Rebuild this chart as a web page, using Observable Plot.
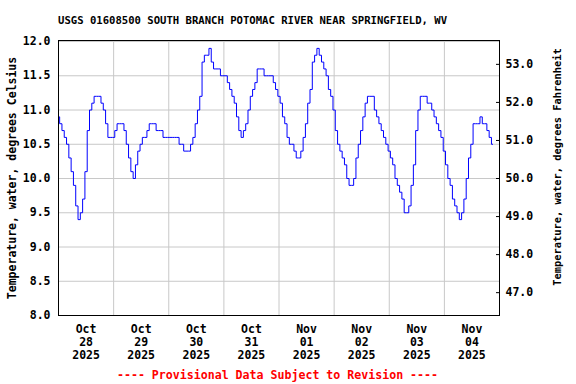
<!DOCTYPE html>
<html><head><meta charset="utf-8">
<script src="https://cdn.jsdelivr.net/npm/d3@7"></script>
<script src="https://cdn.jsdelivr.net/npm/@observablehq/plot@0.6"></script>
<style>
html,body{margin:0;padding:0;background:#fff;}
body{width:576px;height:384px;overflow:hidden;position:relative;font-family:"DejaVu Sans Mono",monospace;font-weight:bold;}
#title{position:absolute;left:58px;top:14px;font-size:10.6px;line-height:12px;color:#000;white-space:pre;}
#chart{position:absolute;left:0;top:30px;}
#foot{position:absolute;left:0;top:366px;width:555px;height:18px;line-height:18px;text-align:center;font-size:11.6px;color:#ff0000;white-space:pre;}
</style></head><body>
<div id="title"></div>
<div id="chart"></div>
<div id="foot"></div>
<script>
const titleText = "USGS 01608500 SOUTH BRANCH POTOMAC RIVER NEAR SPRINGFIELD, WV";
const footText = "---- Provisional Data Subject to Revision ----";
const leftLabel = "Temperature, water, degrees Celsius";
const rightLabel = "Temperature, water, degrees Fahrenheit";

// Hourly water temperature (°C), starting Oct 28 2025 00:00
const startTime = "2025-10-28T00:00:00Z";
const oct28 = [10.9,10.8,10.7,10.6,10.5,10.3,10.1,9.9,9.6,9.4,9.5,9.7,10.1,10.7,11.0,11.1,11.2,11.2,11.2,11.1,11.0,10.8,10.6,10.6];
const oct29 = [10.6,10.7,10.8,10.8,10.8,10.7,10.5,10.3,10.1,10.0,10.2,10.4,10.5,10.6,10.6,10.7,10.8,10.8,10.8,10.7,10.7,10.7,10.6,10.6];
const oct30 = [10.6,10.6,10.6,10.6,10.6,10.5,10.5,10.4,10.4,10.4,10.5,10.6,10.8,11.0,11.2,11.7,11.8,11.8,11.9,11.7,11.6,11.6,11.6,11.5];
const oct31 = [11.5,11.5,11.4,11.3,11.2,11.1,10.9,10.7,10.6,10.7,10.8,11.0,11.2,11.3,11.4,11.6,11.6,11.6,11.5,11.5,11.5,11.5,11.4,11.3];
const nov01 = [11.2,11.1,10.9,10.8,10.6,10.5,10.5,10.4,10.3,10.3,10.4,10.6,10.8,11.1,11.3,11.7,11.8,11.9,11.8,11.7,11.6,11.5,11.3,11.2];
const nov02 = [11.0,10.7,10.5,10.4,10.3,10.2,10.0,9.9,9.9,10.0,10.3,10.5,10.7,10.9,11.1,11.2,11.2,11.2,11.0,10.9,10.8,10.7,10.6,10.5];
const nov03 = [10.4,10.3,10.2,10.0,9.9,9.8,9.7,9.5,9.5,9.6,9.9,10.2,10.7,11.0,11.2,11.2,11.2,11.1,11.1,11.0,10.9,10.8,10.7,10.6];
const nov04 = [10.4,10.2,10.0,9.9,9.7,9.6,9.5,9.4,9.5,9.7,10.0,10.3,10.5,10.8,10.8,10.8,10.9,10.8,10.8,10.7,10.6,10.5];

const celsiusTicks = [8.0,8.5,9.0,9.5,10.0,10.5,11.0,11.5,12.0];
const fahrenheitTicks = [47,48,49,50,51,52,53];
const dayLabels = ["2025-10-28","2025-10-29","2025-10-30","2025-10-31","2025-11-01","2025-11-02","2025-11-03","2025-11-04"];
const domainEnd = "2025-11-05T00:00:00Z";

document.getElementById("title").textContent = titleText;
document.getElementById("foot").textContent = footText;

const t0 = new Date(startTime);
const temps = [].concat(oct28, oct29, oct30, oct31, nov01, nov02, nov03, nov04);
const data = temps.map((v, i) => ({time: d3.utcHour.offset(t0, i), temp: v}));

const midnights = dayLabels.slice(1).map(d => new Date(d + "T00:00:00Z"));
const noons = dayLabels.map(d => new Date(d + "T12:00:00Z"));
const fAsC = fahrenheitTicks.map(f => (f - 32) * 5 / 9);

const chart = Plot.plot({
  width: 576,
  height: 336,
  marginTop: 10,
  marginBottom: 51,
  marginLeft: 58,
  marginRight: 77,
  style: {fontFamily: "'DejaVu Sans Mono', monospace", fontWeight: "bold", fontSize: "11.5px", color: "#000", background: "#fff"},
  x: {type: "utc", domain: [t0, new Date(domainEnd)]},
  y: {domain: [8, 12.015]},
  marks: [
    Plot.gridY(celsiusTicks, {stroke: "#c8c8c8", strokeOpacity: 1, strokeWidth: 1}),
    Plot.gridX(midnights, {stroke: "#c8c8c8", strokeOpacity: 1, strokeWidth: 1}),
    Plot.line(data, {x: "time", y: "temp", stroke: "#0000ff", strokeWidth: 1, curve: "step"}),
    Plot.frame({stroke: "#000", strokeWidth: 1}),
    Plot.axisY(celsiusTicks, {anchor: "left", tickSize: 0, tickPadding: 8, tickFormat: d => d.toFixed(1), label: null}),
    Plot.axisY(fAsC, {anchor: "right", tickSize: -4, tickPadding: 10, tickFormat: d => (d * 9 / 5 + 32).toFixed(1), label: null}),
    Plot.axisX(noons, {anchor: "bottom", tickSize: 0, tickPadding: 9, lineHeight: 1.1, tickFormat: d3.utcFormat("%b\n%d\n%Y"), label: null}),
    Plot.text([leftLabel], {text: d => d, frameAnchor: "left", dx: -46, rotate: -90, textAnchor: "middle", lineAnchor: "middle", fontSize: 11.5}),
    Plot.text([rightLabel], {text: d => d, frameAnchor: "right", dx: 58, dy: -11, rotate: -90, textAnchor: "middle", lineAnchor: "middle", fontSize: 10.4})
  ]
});
document.getElementById("chart").appendChild(chart);
</script>
</body></html>
